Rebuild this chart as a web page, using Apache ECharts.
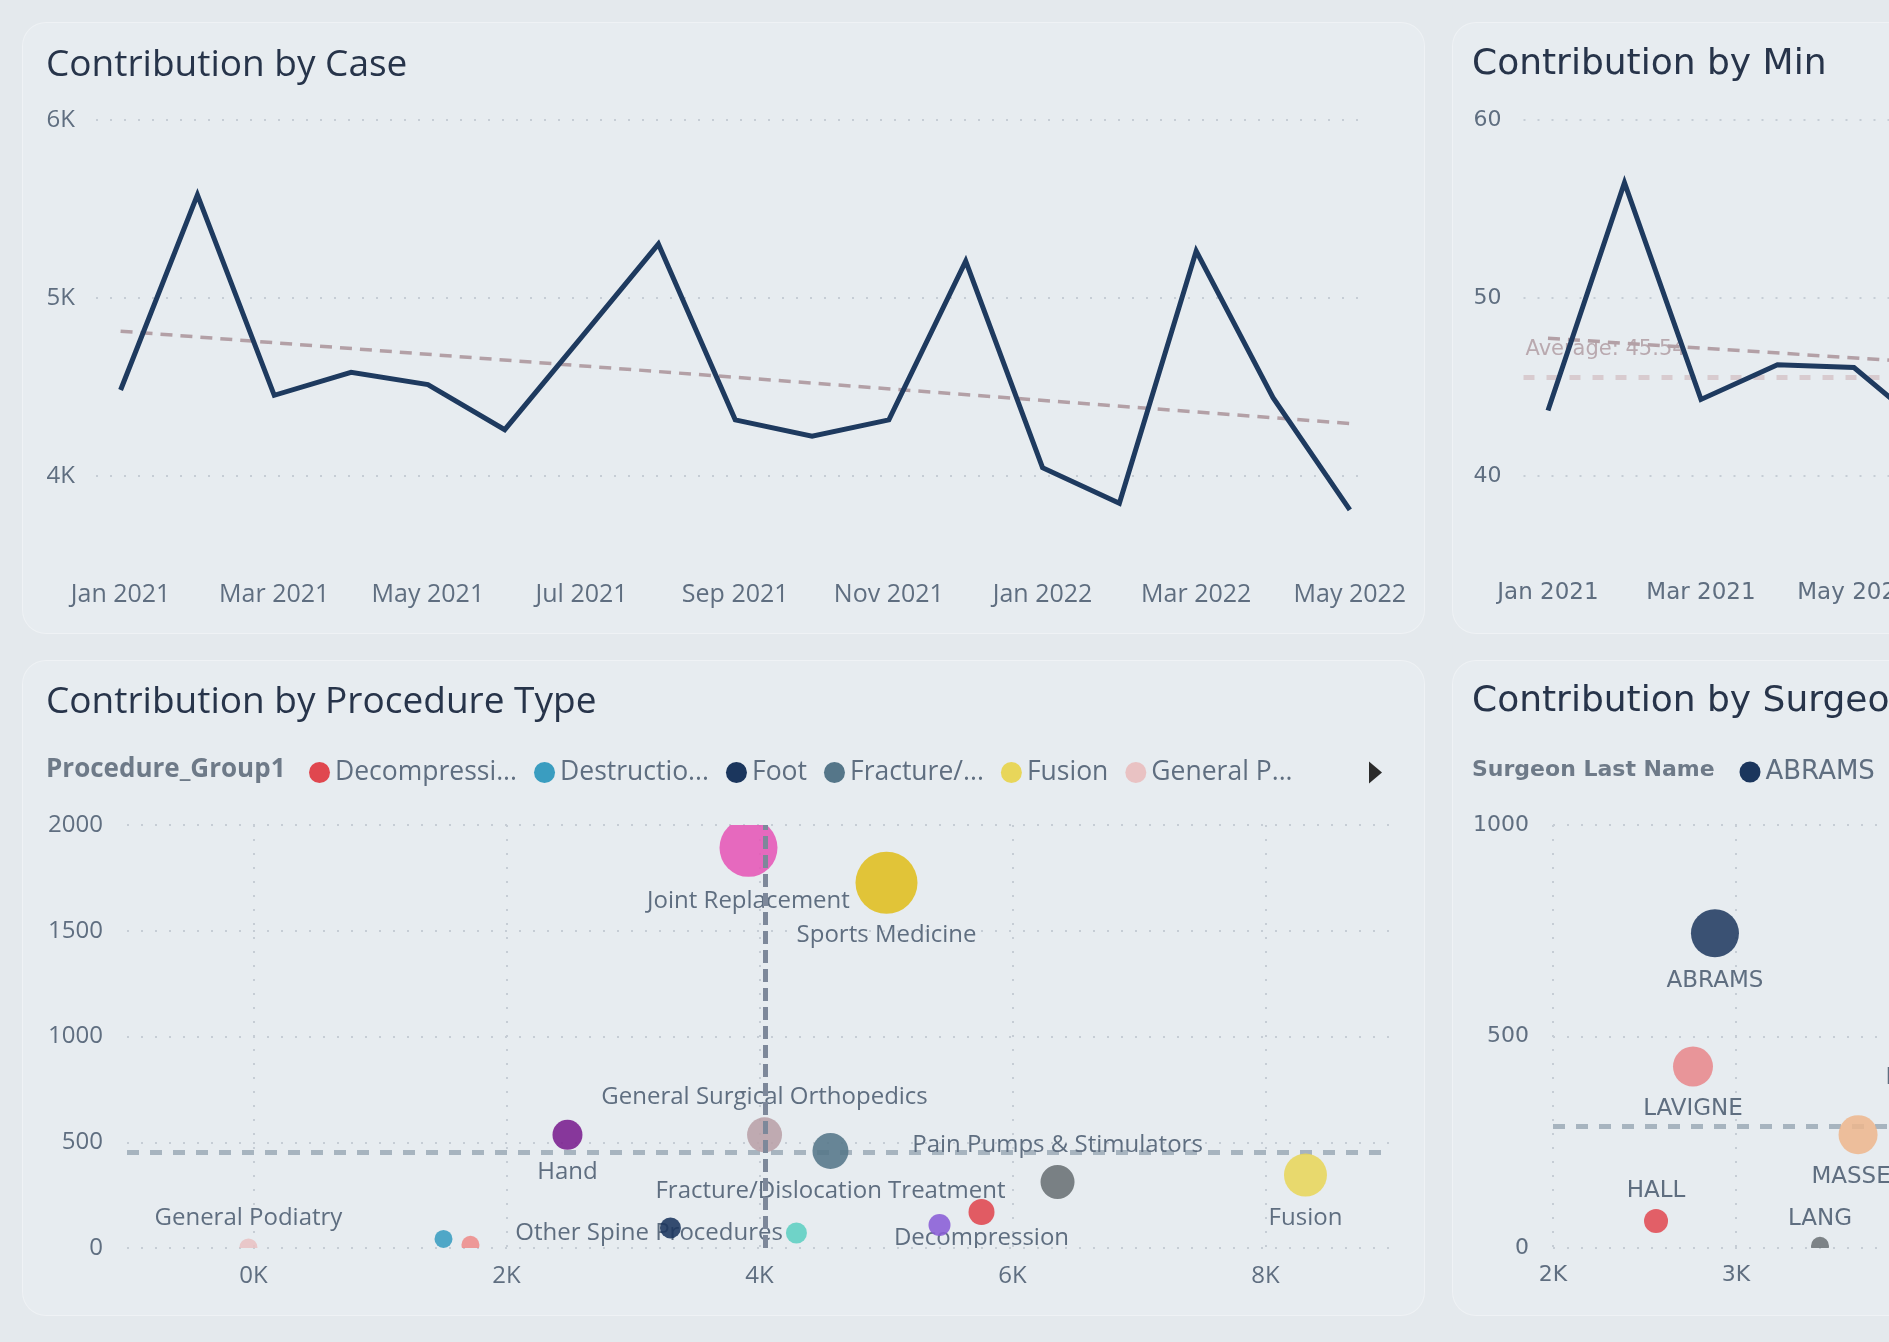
<!DOCTYPE html>
<html>
<head>
<meta charset="utf-8">
<script src="https://cdn.jsdelivr.net/npm/echarts@6/dist/echarts.min.js"></script>
<style>
html,body{margin:0;padding:0;overflow:hidden;background:#E4E9ED;}
#wrap{position:relative;width:2900px;height:1342px;}
.panel{position:absolute;background:#E7ECF0;border:1.5px solid rgba(255,255,255,0.32);border-radius:24px;box-sizing:border-box;}
#c{position:absolute;left:0;top:0;width:2900px;height:1342px;}
</style>
</head>
<body>
<div id="wrap">
  <div class="panel" style="left:22px;top:22px;width:1403px;height:612px;"></div>
  <div class="panel" style="left:1452px;top:22px;width:1403px;height:612px;"></div>
  <div class="panel" style="left:22px;top:660px;width:1403px;height:656px;"></div>
  <div class="panel" style="left:1452px;top:660px;width:1403px;height:656px;"></div>
  <div id="c"></div>
</div>
<script>
// ---------------- data ----------------
const months = ['Jan 2021','Feb 2021','Mar 2021','Apr 2021','May 2021','Jun 2021','Jul 2021','Aug 2021',
  'Sep 2021','Oct 2021','Nov 2021','Dec 2021','Jan 2022','Feb 2022','Mar 2022','Apr 2022','May 2022'];
const caseValues = [4483,5579,4453,4582,4513,4260,4780,5303,4315,4223,4315,5207,4046,3846,5264,4440,3809];
const minValues  = [43.68,56.48,44.30,46.25,46.09,42.50,46.60,52.90,41.50,42.20,43.30,51.80,40.50,38.80,52.40,45.30,39.50];
const caseTicks = [4000,5000,6000];
const minTicks  = [40,50,60];

const procNames = ['Decompression','Destruction by Neurolytic Agent','Foot','Fracture/Dislocation Treatment','Fusion',
  'General Podiatry','General Surgical Orthopedics','Hand','Joint Replacement','Other Spine Procedures',
  'Pain Pumps & Stimulators','Pediatric Orthopedics','Sports Medicine','Spine Stabilization'];
const procLegendLabels = ['Decompressi...','Destructio...','Foot','Fracture/...','Fusion','General P...',
  'General S...','Hand','Joint Repl...','Other Spi...','Pain Pum...','Pediatric...','Sports Me...','Spine Sta...'];
const procX = [5755,1502,3296,4561,8316,-40,4040,2482,3913,4292,6356,1715,5004,5423];
const procY = [170,43,95,459,345,3,535,535,1892,71,312,15,1727,109];
const procVolume = [176,84,115,337,481,84,319,234,875,115,301,84,1000,126];
const procXTicks = [0,2000,4000,6000,8000];

const surgNames = ['ABRAMS','DUNN','HALL','LANG','LAVIGNE','MASSEY','NGUYEN','PATEL'];
const surgX = [2885,4005,2563,3459,2765,3667,6400,6000];
const surgY = [744,500,64,5,429,268,180,110];
const surgVolume = [1000,563,250,141,694,660,391,250];

// ---------------- styles ----------------
const FL = "'Segoe UI','Open Sans',sans-serif";
const FR = "'DejaVu Sans',Verdana,sans-serif";
const TITLE_C = '#27344A';
const AX_C = '#5F6E80';
const LEG_T = '#6E7A88';
const GRID_C = '#C6CDD5';
const procColors = {
  'Decompression':'#E0474F','Destruction by Neurolytic Agent':'#3A9DC0','Foot':'#1B365D',
  'Fracture/Dislocation Treatment':'#557689','Fusion':'#E8D65A','General Podiatry':'#E9C2C3',
  'General Surgical Orthopedics':'#B9A1A7','Hand':'#7A1E8E','Joint Replacement':'#E657B6',
  'Other Spine Procedures':'#5ECFC1','Pain Pumps & Stimulators':'#6A7174','Pediatric Orthopedics':'#EE8C8A',
  'Sports Medicine':'#E0BE1E','Spine Stabilization':'#8A5DD6'
};
const procLabelPlace = {
  'Joint Replacement':['bottom',12],'Sports Medicine':['bottom',9],'General Surgical Orthopedics':['top',8],
  'Hand':['bottom',10],'Fracture/Dislocation Treatment':['bottom',10],'Pain Pumps & Stimulators':['top',8],
  'Fusion':['bottom',10],'Decompression':['bottom',1],'General Podiatry':['top',8],'Other Spine Procedures':['left',3]
};
const procOnTop = {'Foot':true,'Spine Stabilization':true};
const surgColors = {'ABRAMS':'#1B365D','DUNN':'#3A9DC0','HALL':'#E0474F','LANG':'#6A7174',
  'LAVIGNE':'#E8868A','MASSEY':'#EDB68C','NGUYEN':'#8A5DD6','PATEL':'#5ECFC1'};
const surgLabelPlace = {'ABRAMS':['bottom',12],'DUNN':['bottom',12],'HALL':['top',6],'LANG':['top',6],
  'LAVIGNE':['bottom',11],'MASSEY':['bottom',11],'NGUYEN':['bottom',11],'PATEL':['bottom',11]};

// ---------------- helpers ----------------
const mean = a => a.reduce((s, v) => s + v, 0) / a.length;
function linReg(vals) {
  const n = vals.length; let sx = 0, sy = 0, sxx = 0, sxy = 0;
  vals.forEach((v, i) => { sx += i; sy += v; sxx += i * i; sxy += i * v; });
  const b = (n * sxy - sx * sy) / (n * sxx - sx * sx);
  const a = (sy - b * sx) / n;
  return [[0, a], [n - 1, a + b * (n - 1)]];
}
const monthTickIdx = months.map((m, i) => i).filter(i => i % 2 === 0);
const dotted = {color: GRID_C, width: 2, type: [2, 12]};

const timeX = (gi, font, size) => ({
  gridIndex: gi, type: 'value', min: -0.32, max: 16.21,
  axisLine: {show: false}, axisTick: {show: false, customValues: monthTickIdx},
  splitLine: {show: false},
  axisLabel: {customValues: monthTickIdx, formatter: v => months[Math.round(v)], margin: 42,
    color: AX_C, fontFamily: font, fontSize: size}
});
const valY = (gi, min, max, ticks, fmt, margin, font, size) => ({
  gridIndex: gi, type: 'value', min: min, max: max,
  axisLine: {show: false}, axisTick: {show: false, customValues: ticks},
  axisLabel: {customValues: ticks, formatter: fmt, margin: margin, color: AX_C, fontFamily: font, fontSize: size},
  splitLine: {show: true, lineStyle: dotted}
});

// bubble drawn through the axes, clipped to the plot area like the original
function bubble(name, xi, yi, point, diamAt1000, color, opacity, lp, font, fsize, z) {
  return {
    type: 'custom', name: name, xAxisIndex: xi, yAxisIndex: yi, z: z, clip: true,
    data: [point], itemStyle: {color: color},
    renderItem: (params, api) => {
      const c = api.coord([api.value(0), api.value(1)]);
      const r = diamAt1000 * Math.sqrt(api.value(2) / 1000) / 2;
      const el = {type: 'circle', shape: {cx: c[0], cy: c[1], r: r}, style: {fill: color, opacity: opacity}};
      if (lp) {
        el.textContent = {style: {text: name, fill: AX_C, fontFamily: font, fontSize: fsize}};
        el.textConfig = {position: lp[0], distance: lp[1]};
      }
      return el;
    }
  };
}

const procAvgX = mean(procX), procAvgY = mean(procY);
const surgAvgX = mean(surgX), surgAvgY = mean(surgY);
const minAvg = mean(minValues);

const series = [];
series.push({type: 'line', name: 'Case', xAxisIndex: 0, yAxisIndex: 0, z: 3,
  data: caseValues.map((v, i) => [i, v]), symbol: 'none',
  lineStyle: {color: '#1E3A5F', width: 5, join: 'miter'}});
series.push({type: 'line', name: 'CaseTrend', xAxisIndex: 0, yAxisIndex: 0, z: 2,
  data: linReg(caseValues), symbol: 'none', silent: true,
  lineStyle: {color: '#B3A0A6', width: 3.5, type: [12, 8]}});
series.push({type: 'line', name: 'Min', xAxisIndex: 1, yAxisIndex: 1, z: 3,
  data: minValues.map((v, i) => [i, v]), symbol: 'none',
  lineStyle: {color: '#1E3A5F', width: 5, join: 'miter'}});
series.push({type: 'line', name: 'MinTrend', xAxisIndex: 1, yAxisIndex: 1, z: 2,
  data: linReg(minValues), symbol: 'none', silent: true,
  lineStyle: {color: '#B3A0A6', width: 3.5, type: [12, 8]},
  markLine: {silent: true, symbol: 'none', z: 2,
    lineStyle: {color: '#D8CBCF', width: 5, type: [11, 12]},
    label: {show: true, position: 'insideStartTop', distance: [2, 17],
      formatter: 'Average: ' + minAvg.toFixed(2), color: '#B9A9AF', fontFamily: FR, fontSize: 21},
    data: [{yAxis: minAvg}]}});

procNames.forEach((name, i) => {
  series.push(bubble(name, 2, 2, [procX[i], procY[i], procVolume[i]], 62, procColors[name], 0.88,
    procLabelPlace[name], FL, 24, procOnTop[name] ? 3 : 2));
});
series.push({type: 'scatter', name: '_procAvgH', xAxisIndex: 2, yAxisIndex: 2, z: 1, data: [],
  markLine: {silent: true, symbol: 'none', z: 1, label: {show: false},
    lineStyle: {color: '#A7B4BF', width: 5, type: [12, 11]}, data: [{yAxis: procAvgY}]}});
series.push({type: 'scatter', name: '_procAvgV', xAxisIndex: 2, yAxisIndex: 2, z: 5, data: [],
  markLine: {silent: true, symbol: 'none', z: 5, label: {show: false},
    lineStyle: {color: '#7D889A', width: 5, type: [13, 6]}, data: [{xAxis: procAvgX}]}});

surgNames.forEach((name, i) => {
  series.push(bubble(name, 3, 3, [surgX[i], surgY[i], surgVolume[i]], 48, surgColors[name], 0.85,
    surgLabelPlace[name], FR, 23, 2));
});
series.push({type: 'scatter', name: '_surgAvgH', xAxisIndex: 3, yAxisIndex: 3, z: 1, data: [],
  markLine: {silent: true, symbol: 'none', z: 1, label: {show: false},
    lineStyle: {color: '#A7B4BF', width: 5, type: [12, 11]}, data: [{yAxis: surgAvgY}]}});
series.push({type: 'scatter', name: '_surgAvgV', xAxisIndex: 3, yAxisIndex: 3, z: 5, data: [],
  markLine: {silent: true, symbol: 'none', z: 5, label: {show: false},
    lineStyle: {color: '#7D889A', width: 5, type: [13, 6]}, data: [{xAxis: surgAvgX}]}});

const titleStyle = (font, size) => ({fontFamily: font, fontSize: size, fontWeight: 'normal', color: TITLE_C, lineHeight: 44});

const option = {
  backgroundColor: 'transparent',
  animation: false,
  title: [
    {text: 'Contribution by Case', left: 46, top: 43, padding: 0, textStyle: titleStyle(FL, 37)},
    {text: 'Contribution by Min', left: 1472, top: 43, padding: 0, textStyle: titleStyle(FR, 36)},
    {text: 'Contribution by Procedure Type', left: 46, top: 680, padding: 0, textStyle: titleStyle(FL, 37)},
    {text: 'Contribution by Surgeon', left: 1472, top: 680, padding: 0, textStyle: titleStyle(FR, 36)},
    {text: 'Procedure_Group1', left: 46, top: 755, padding: 0,
      textStyle: {fontFamily: FL, fontSize: 26, fontWeight: 'bold', color: LEG_T, lineHeight: 30}},
    {text: 'Surgeon Last Name', left: 1472, top: 755, padding: 0,
      textStyle: {fontFamily: FR, fontSize: 22, fontWeight: 'bold', color: LEG_T, lineHeight: 30}}
  ],
  legend: [
    {type: 'scroll', orient: 'horizontal', left: 309, top: 759, width: 1073, padding: 0,
      data: procNames, icon: 'circle', itemWidth: 21, itemHeight: 21, itemGap: 17,
      itemStyle: {opacity: 1},
      textStyle: {fontFamily: FL, fontSize: 26.5, color: AX_C},
      formatter: n => procLegendLabels[procNames.indexOf(n)],
      pageIcons: {horizontal: ['path://M13,0L0,11L13,22Z', 'path://M0,0L13,11L0,22Z']},
      pageIconSize: [13, 22], pageIconColor: '#2B2B2B', pageIconInactiveColor: 'rgba(0,0,0,0)',
      pageFormatter: () => '', pageTextStyle: {fontSize: 1}, pageButtonGap: 44, pageButtonItemGap: 5},
    {type: 'plain', orient: 'horizontal', left: 1739.5, top: 759, padding: 0,
      data: surgNames, icon: 'circle', itemWidth: 21, itemHeight: 21, itemGap: 20,
      itemStyle: {opacity: 1},
      textStyle: {fontFamily: FR, fontSize: 26, color: AX_C}}
  ],
  grid: [
    {left: 96, top: 120, width: 1270, height: 420},
    {left: 1523.5, top: 120, width: 1264.5, height: 420},
    {left: 127, top: 825, width: 1265, height: 423},
    {left: 1553, top: 825, width: 1281, height: 423}
  ],
  xAxis: [
    timeX(0, FL, 25),
    timeX(1, FR, 23),
    {gridIndex: 2, type: 'value', min: -1000, max: 9000,
      axisLine: {show: false}, axisTick: {show: false, customValues: procXTicks},
      axisLabel: {customValues: procXTicks, formatter: v => (v / 1000) + 'K', margin: 16,
        color: AX_C, fontFamily: FL, fontSize: 24},
      splitLine: {show: true, lineStyle: dotted}},
    {gridIndex: 3, type: 'value', min: 2000, max: 9000, interval: 1000,
      axisLine: {show: false}, axisTick: {show: false},
      axisLabel: {formatter: v => (v / 1000) + 'K', margin: 16, color: AX_C, fontFamily: FR, fontSize: 22},
      splitLine: {show: true, lineStyle: dotted}}
  ],
  yAxis: [
    valY(0, 3640, 6000, caseTicks, v => (v / 1000) + 'K', 21, FL, 24),
    valY(1, 36.4, 60, minTicks, v => String(v), 22, FR, 22),
    {gridIndex: 2, type: 'value', min: 0, max: 2000, interval: 500,
      axisLine: {show: false}, axisTick: {show: false},
      axisLabel: {formatter: v => String(v), margin: 24, color: AX_C, fontFamily: FL, fontSize: 24},
      splitLine: {show: true, lineStyle: dotted}},
    {gridIndex: 3, type: 'value', min: 0, max: 1000, interval: 500,
      axisLine: {show: false}, axisTick: {show: false},
      axisLabel: {formatter: v => String(v), margin: 24, color: AX_C, fontFamily: FR, fontSize: 22},
      splitLine: {show: true, lineStyle: dotted}}
  ],
  series: series
};

const chart = echarts.init(document.getElementById('c'), null, {renderer: 'canvas'});
chart.setOption(option);
</script>
</body>
</html>
